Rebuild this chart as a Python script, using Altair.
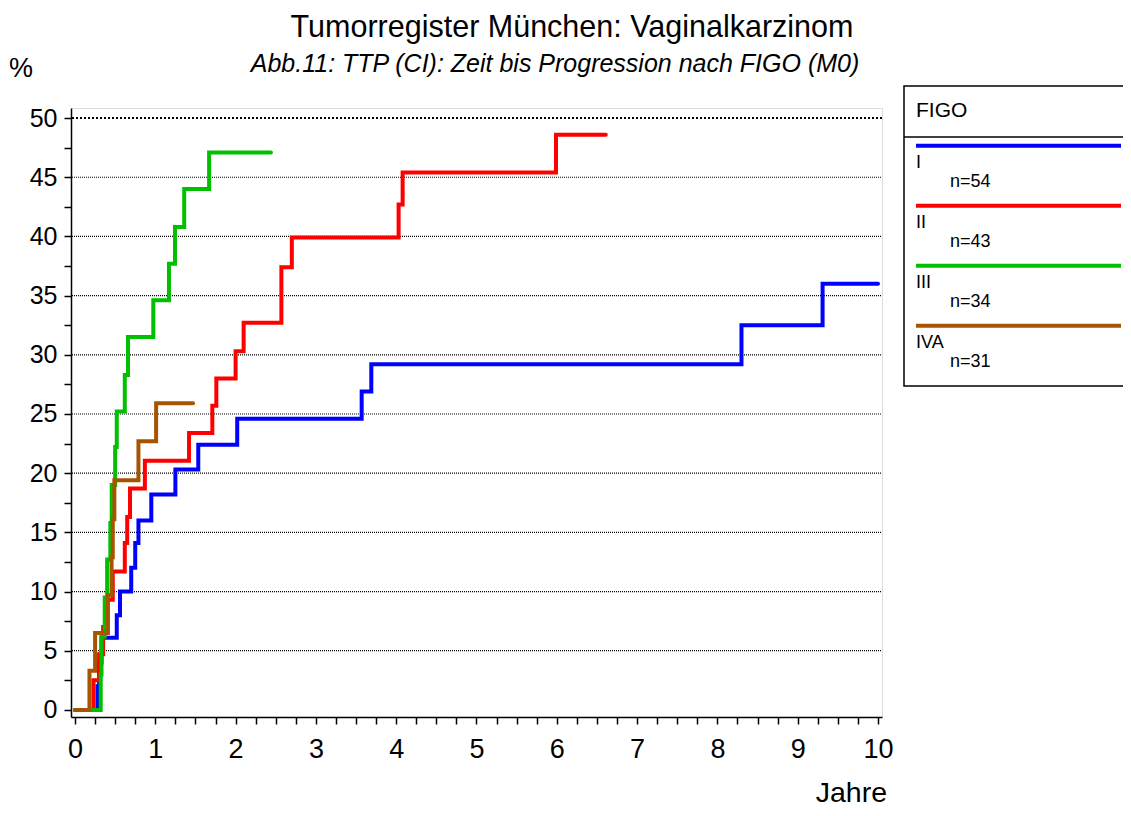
import altair as alt
import pandas as pd

# ---- data ----
groups = ["I", "II", "III", "IVA"]
n_labels = ["n=54", "n=43", "n=34", "n=31"]
colors = ["#0000FF", "#FF0000", "#00C000", "#A65400"]

t_I = [0, 0.28, 0.30, 0.33, 0.52, 0.56, 0.70, 0.75, 0.79, 0.95, 1.25, 1.535, 2.02, 3.57, 3.69, 8.30, 9.31, 10.0]
v_I = [0, 2.0, 4.0, 6.1, 8.0, 10.0, 12.0, 14.1, 16.0, 18.2, 20.3, 22.4, 24.6, 26.9, 29.2, 32.5, 36.0, 36.0]

t_II = [0, 0.23, 0.30, 0.35, 0.40, 0.47, 0.62, 0.65, 0.685, 0.87, 1.42, 1.71, 1.76, 2.0, 2.10, 2.57, 2.70, 4.03, 4.08, 5.99, 6.61]
v_II = [0, 2.5, 4.7, 7.0, 9.3, 11.7, 14.1, 16.3, 18.7, 21.05, 23.4, 25.7, 28.0, 30.3, 32.7, 37.4, 39.9, 42.7, 45.4, 48.6, 48.6]

t_III = [0, 0.32, 0.33, 0.37, 0.40, 0.44, 0.457, 0.50, 0.52, 0.62, 0.66, 0.975, 1.17, 1.245, 1.36, 1.67, 2.44]
v_III = [0, 3.0, 6.2, 9.5, 12.7, 15.8, 19.0, 22.2, 25.2, 28.3, 31.5, 34.6, 37.7, 40.8, 44.0, 47.1, 47.1]

t_IVA = [0, 0.18, 0.25, 0.41, 0.455, 0.47, 0.49, 0.79, 1.01, 1.47]
v_IVA = [0, 3.3, 6.5, 9.7, 12.9, 16.1, 19.4, 22.7, 25.9, 25.9]

grid_values = [5, 10, 15, 20, 25, 30, 35, 40, 45]
top_grid = [50]
x_ticks = [i * 0.25 for i in range(41)]
y_ticks = [i * 2.5 for i in range(21)]

title_text = "Tumorregister München: Vaginalkarzinom"
subtitle_text = "Abb.11: TTP (CI): Zeit bis Progression nach FIGO (M0)"
legend_title = "FIGO"

FONT = "Liberation Sans"

# ---- build tables ----
series = {"I": (t_I, v_I), "II": (t_II, v_II), "III": (t_III, v_III), "IVA": (t_IVA, v_IVA)}
rows = []
for k, g in enumerate(groups):
    ts, vs = series[g]
    for t, v in zip(ts, vs):
        rows.append({"group": g, "t": t, "v": v, "k": k})
df = pd.DataFrame(rows)

leg = pd.DataFrame({
    "group": groups,
    "n": n_labels,
    "ly": [37.7 + 60 * i for i in range(len(groups))],
})
leg["ty"] = leg["ly"] + 17
leg["ny"] = leg["ly"] + 36

xscale = alt.Scale(domain=[-0.05, 10.05], nice=False, zero=False)
yscale = alt.Scale(domain=[-0.6, 50.85], nice=False, zero=False)
cscale = alt.Scale(domain=groups, range=colors)

xaxis = alt.Axis(values=x_ticks,
                 labelExpr="datum.value % 1 == 0 ? format(datum.value, 'd') : ''",
                 title=None, grid=False, domainColor="black", domainWidth=1.5,
                 tickColor="black", tickWidth=1.5, tickSize=7, labelFont=FONT,
                 labelFontSize=27, labelColor="black", labelPadding=12, labelFlush=False,
                 labelOverlap=False)
yaxis = alt.Axis(values=y_ticks,
                 labelExpr="datum.value % 5 == 0 ? format(datum.value, 'd') : ''",
                 title=None, grid=False, domainColor="black", domainWidth=1.5,
                 tickColor="black", tickWidth=1.5, tickSize=7, labelFont=FONT,
                 labelFontSize=25, labelColor="black", labelPadding=7, labelFlush=False,
                 labelOverlap=False)

one = pd.DataFrame({"a": [0]})

grid = alt.Chart(pd.DataFrame({"g": grid_values})).mark_rule(
    color="black", strokeWidth=1.2, strokeDash=[1, 1]
).encode(y=alt.Y("g:Q", scale=yscale, axis=yaxis), x=alt.value(1), x2=alt.value(811))

grid_top = alt.Chart(pd.DataFrame({"g": top_grid})).mark_rule(
    color="black", strokeWidth=2, strokeDash=[2, 2]
).encode(y=alt.Y("g:Q", scale=yscale, axis=yaxis), x=alt.value(1), x2=alt.value(811))

lines = alt.Chart(df).mark_line(
    interpolate="step-after", strokeWidth=4, strokeCap="round", strokeJoin="miter"
).encode(
    x=alt.X("t:Q", scale=xscale, axis=xaxis),
    y=alt.Y("v:Q", scale=yscale, axis=yaxis),
    color=alt.Color("group:N", scale=cscale, legend=None),
    detail="group:N",
    order="t:Q",
)

def txt(s, x, y, size, align="center", style="normal", baseline="middle"):
    return alt.Chart(one).mark_text(
        text=s, font=FONT, fontSize=size, fontStyle=style, align=align, baseline=baseline, color="black"
    ).encode(x=alt.value(x), y=alt.value(y))

title = txt(title_text, 501, -71.5, 30.5, baseline="alphabetic")
subtitle = txt(subtitle_text, 484, -44, 25, style="italic")
pct = txt("%", -50, -39, 27)
jahre = txt("Jahre", 816, 694, 28.5, align="right", baseline="alphabetic")

box = alt.Chart(one).mark_rect(fill="white", fillOpacity=0, stroke="black", strokeWidth=1.5).encode(
    x=alt.value(833), x2=alt.value(1070), y=alt.value(-22), y2=alt.value(278)
)
sep = alt.Chart(one).mark_rule(color="black", strokeWidth=1.5).encode(
    x=alt.value(833), x2=alt.value(1070), y=alt.value(29)
)
leg_title = txt(legend_title, 845, 3, 21, align="left")

leg_lines = alt.Chart(leg).mark_rule(strokeWidth=4).encode(
    x=alt.value(845), x2=alt.value(1050),
    y=alt.Y("ly:Q", scale=None),
    color=alt.Color("group:N", scale=cscale, legend=None),
)
leg_names = alt.Chart(leg).mark_text(font=FONT, fontSize=18, align="left", baseline="middle", color="black").encode(
    x=alt.value(845), y=alt.Y("ty:Q", scale=None), text="group:N"
)
leg_n = alt.Chart(leg).mark_text(font=FONT, fontSize=18, align="left", baseline="middle", color="black").encode(
    x=alt.value(879), y=alt.Y("ny:Q", scale=None), text="n:N"
)

chart = alt.layer(
    grid, grid_top, lines, title, subtitle, pct, jahre, box, sep, leg_title, leg_lines, leg_names, leg_n
).properties(
    width=811, height=609,
    autosize=alt.AutoSizeParams(type="none"),
    padding={"left": 63, "top": 100, "right": 241, "bottom": 92},
).configure_view(strokeWidth=0).configure(background="white")

chart.save("out.html", embed_options={"renderer": "svg", "actions": False})
